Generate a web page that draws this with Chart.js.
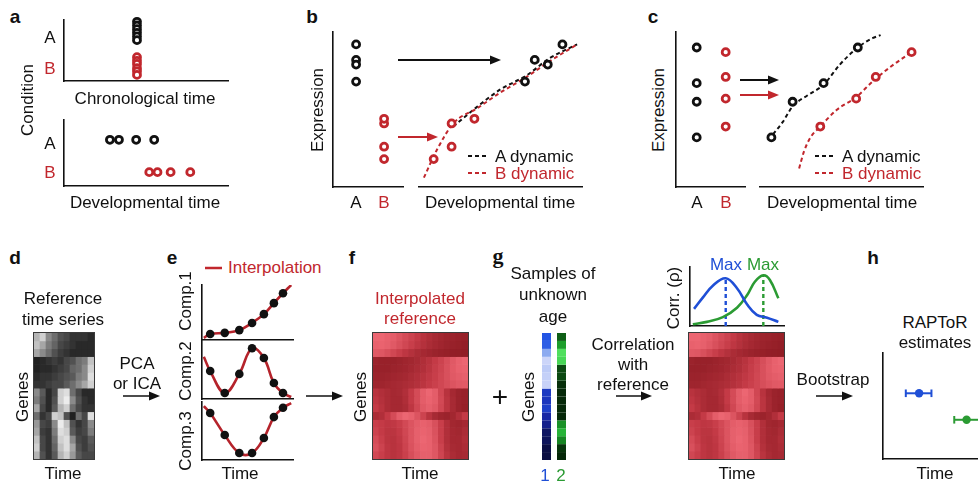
<!DOCTYPE html>
<html>
<head>
<meta charset="utf-8">
<script src="https://cdn.jsdelivr.net/npm/chart.js@4.4.0/dist/chart.umd.min.js"></script>
<style>
html, body { margin: 0; padding: 0; background: #fff; }
#fig { position: relative; width: 978px; height: 481px; overflow: hidden;
       font-family: "Liberation Sans", Arial, sans-serif; color: #111; }
#fig canvas { position: absolute; }
.lbl { position: absolute; white-space: nowrap; font-size: 17px; line-height: 1; }
.panel { font-weight: bold; font-size: 19px; }
.heat { outline: 1px solid #3a3a3a; }
#fig svg { position: absolute; left: 0; top: 0; }
</style>
</head>
<body>
<div id="fig"></div>
<script>
const RED = '#c1272d', BLUE = '#1f4fd6', GREEN = '#2b9b33', INK = '#111';

// ---- a: samples of conditions A/B on chronological vs developmental time
const aChronoTime = 4.45;
const aChronoA = [9.7, 9.1, 8.5, 7.9, 7.3, 6.7];
const aChronoB = [3.9, 3.3, 2.8, 2.1, 1.6, 1.0];
const aDevA = [2.8, 3.35, 4.4, 5.5];
const aDevB = [5.2, 5.7, 6.5, 7.7];
const aRowA = 7.0, aRowB = 2.1;

// ---- b: expression of samples, and their developmental dynamics
const bTimeA = [6.5, 7.1, 7.9, 8.8], bExprA = [6.8, 8.2, 7.9, 9.2];
const bTimeB = [0.9, 2.0, 2.0, 3.4], bExprB = [1.8, 4.1, 2.6, 4.4];
const bDynAt = [2.1, 3.6, 5.0, 6.6, 8.0, 9.7];
const bDynA = [3.9, 5.2, 6.3, 7.2, 8.3, 9.2];
const bDynBt = [0.3, 1.1, 2.1, 3.6, 5.0, 6.6, 8.0, 9.7];
const bDynB = [0.6, 2.4, 4.1, 5.1, 6.1, 7.1, 8.1, 9.2];

// ---- c
const cTimeA = [0.7, 2.0, 3.9, 6.0], cExprA = [3.2, 5.5, 6.7, 9.0];
const cTimeB = [3.7, 5.9, 7.1, 9.3], cExprB = [3.9, 5.7, 7.1, 8.7];
const cDynAt = [0.8, 1.4, 2.0, 2.9, 3.9, 4.9, 6.0, 6.9, 7.4];
const cDynA = [3.4, 4.2, 5.2, 5.9, 6.6, 7.9, 9.0, 9.6, 9.8];
const cDynBt = [2.4, 2.7, 3.1, 3.7, 4.7, 5.9, 7.0, 8.2, 9.3];
const cDynB = [1.2, 2.3, 3.2, 3.9, 4.97, 5.8, 6.9, 7.9, 8.7];

// x of the A / B columns in the left boxes of b and c
const condX = { b: [3.3, 7.3], c: [3.0, 7.2] };

// ---- d: reference time series (genes x time), 0 = black, 1 = white
const refSeries = [
  [0.75, 0.85, 0.6, 0.5, 0.35, 0.3, 0.2, 0.2, 0.2, 0.15],
  [0.8, 0.7, 0.55, 0.45, 0.3, 0.25, 0.2, 0.15, 0.15, 0.15],
  [0.7, 0.6, 0.5, 0.35, 0.25, 0.2, 0.15, 0.15, 0.15, 0.15],
  [0.1, 0.15, 0.2, 0.25, 0.2, 0.3, 0.35, 0.5, 0.55, 0.8],
  [0.1, 0.15, 0.15, 0.2, 0.25, 0.3, 0.45, 0.5, 0.6, 0.85],
  [0.15, 0.2, 0.2, 0.25, 0.3, 0.35, 0.4, 0.55, 0.6, 0.9],
  [0.2, 0.2, 0.25, 0.3, 0.3, 0.4, 0.5, 0.6, 0.7, 0.85],
  [0.6, 0.4, 0.15, 0.3, 0.85, 0.9, 0.5, 0.3, 0.15, 0.15],
  [0.55, 0.35, 0.15, 0.35, 0.85, 0.95, 0.6, 0.35, 0.2, 0.15],
  [0.7, 0.3, 0.15, 0.4, 0.75, 0.85, 0.5, 0.3, 0.2, 0.2],
  [0.5, 0.2, 0.3, 0.85, 0.8, 0.35, 0.1, 0.5, 0.3, 0.9],
  [0.65, 0.3, 0.25, 0.6, 0.95, 0.8, 0.35, 0.2, 0.3, 0.6],
  [0.7, 0.25, 0.2, 0.55, 0.9, 0.85, 0.4, 0.25, 0.3, 0.55],
  [0.8, 0.3, 0.2, 0.5, 0.85, 0.9, 0.6, 0.3, 0.25, 0.4],
  [0.85, 0.3, 0.2, 0.45, 0.8, 0.9, 0.7, 0.35, 0.25, 0.35],
  [0.75, 0.35, 0.2, 0.4, 0.75, 0.85, 0.65, 0.4, 0.3, 0.3]
];

// ---- e: components over time, with interpolation
const eTime = [0.9, 2.5, 4.1, 5.5, 6.8, 7.9, 8.9];
const comp1 = [1.1, 1.3, 1.8, 3.1, 4.7, 6.7, 8.5];
const comp2 = [4.9, 1.05, 4.4, 8.9, 7.2, 2.8, 1.05];
const comp3 = [8.1, 4.3, 1.2, 1.2, 3.8, 7.4, 9.0];
const eSpan = [0.2, 9.8];                        // time where the fitted curve starts / ends
const comp1Ends = [0.4, 10], comp2Ends = [7.4, 0.35], comp3Ends = [9.3, 9.8];

// ---- f: interpolated reference (genes x time), 0 = dark, 1 = light
const interpRef = [
  [0.95, 0.95, 0.9, 0.85, 0.75, 0.65, 0.55, 0.45, 0.35, 0.28, 0.22, 0.18, 0.14, 0.12, 0.1, 0.08],
  [0.9, 0.92, 0.88, 0.8, 0.7, 0.6, 0.5, 0.4, 0.32, 0.25, 0.2, 0.16, 0.12, 0.1, 0.08, 0.06],
  [0.8, 0.78, 0.7, 0.6, 0.5, 0.4, 0.32, 0.25, 0.2, 0.16, 0.12, 0.1, 0.08, 0.06, 0.05, 0.04],
  [0.12, 0.1, 0.1, 0.1, 0.12, 0.15, 0.18, 0.22, 0.28, 0.35, 0.45, 0.55, 0.68, 0.8, 0.9, 0.95],
  [0.1, 0.1, 0.1, 0.12, 0.14, 0.16, 0.2, 0.25, 0.3, 0.38, 0.48, 0.58, 0.7, 0.82, 0.9, 0.92],
  [0.12, 0.12, 0.14, 0.16, 0.18, 0.2, 0.25, 0.3, 0.35, 0.42, 0.5, 0.6, 0.7, 0.8, 0.85, 0.88],
  [0.15, 0.15, 0.18, 0.2, 0.22, 0.25, 0.28, 0.32, 0.38, 0.45, 0.52, 0.6, 0.68, 0.75, 0.8, 0.82],
  [0.35, 0.3, 0.25, 0.2, 0.22, 0.3, 0.45, 0.65, 0.85, 0.95, 0.85, 0.6, 0.35, 0.2, 0.12, 0.1],
  [0.4, 0.32, 0.25, 0.2, 0.2, 0.28, 0.45, 0.65, 0.85, 0.92, 0.85, 0.62, 0.38, 0.22, 0.12, 0.1],
  [0.45, 0.35, 0.25, 0.2, 0.2, 0.25, 0.4, 0.6, 0.8, 0.88, 0.8, 0.6, 0.38, 0.22, 0.12, 0.08],
  [0.25, 0.3, 0.45, 0.65, 0.85, 0.95, 0.9, 0.75, 0.55, 0.35, 0.22, 0.15, 0.12, 0.18, 0.3, 0.45],
  [0.5, 0.45, 0.4, 0.42, 0.5, 0.62, 0.75, 0.85, 0.9, 0.85, 0.7, 0.5, 0.3, 0.18, 0.15, 0.2],
  [0.55, 0.45, 0.38, 0.38, 0.45, 0.6, 0.75, 0.88, 0.92, 0.88, 0.72, 0.5, 0.3, 0.2, 0.18, 0.25],
  [0.65, 0.5, 0.38, 0.35, 0.42, 0.58, 0.75, 0.88, 0.95, 0.9, 0.75, 0.5, 0.3, 0.2, 0.2, 0.28],
  [0.7, 0.55, 0.4, 0.35, 0.4, 0.55, 0.72, 0.85, 0.92, 0.9, 0.78, 0.55, 0.32, 0.22, 0.2, 0.25],
  [0.6, 0.5, 0.4, 0.35, 0.4, 0.52, 0.68, 0.8, 0.88, 0.88, 0.78, 0.58, 0.36, 0.25, 0.2, 0.22]
];

// ---- g: two samples of unknown age (gene expression), correlation with reference
const sample1 = [0.6, 0.62, 0.8, 0.97, 0.93, 0.95, 0.96, 0.45, 0.43, 0.48, 0.33, 0.25, 0.12, 0.1, 0.03, 0.02];
const sample2 = [0.3, 0.55, 0.9, 0.85, 0.2, 0.2, 0.08, 0.05, 0.05, 0.05, 0.05, 0.5, 0.65, 0.45, 0.1, 0.04];
const corrT1 = [0.43, 1.4, 2.4, 3.8, 5.0, 6.1, 7.1, 8.2, 9.4];
const corr1 = [2.9, 4.9, 6.8, 8.1, 6.4, 3.6, 1.9, 1.4, 0.7];
const corrT2 = [0.3, 1.8, 3.5, 5.0, 6.1, 6.9, 7.8, 8.5, 9.4];
const corr2 = [0.3, 0.7, 1.5, 3.1, 5.3, 7.5, 8.6, 7.8, 4.7];
const maxT = [3.8, 7.8], maxCorr = [8.1, 8.6];

// ---- h: bootstrap age estimates
const estT = [3.8, 8.8], estLo = [2.4, 7.5], estHi = [5.1, 10.3], estRow = [6.2, 3.7];

const fig = document.getElementById('fig');

function pts(xs, ys) { return xs.map((x, i) => ({ x, y: ys[i] })); }

function ramp(stops) {
  return v => {
    let i = 1;
    while (i < stops.length - 1 && v > stops[i][0]) i++;
    const [v0, c0] = stops[i - 1], [v1, c1] = stops[i];
    const t = Math.max(0, Math.min(1, (v - v0) / (v1 - v0)));
    const c = c0.map((k, j) => Math.round(k + (c1[j] - k) * t));
    return `rgb(${c[0]},${c[1]},${c[2]})`;
  };
}
const grayMap = ramp([[0, [12, 12, 12]], [0.5, [110, 110, 110]], [1, [250, 250, 250]]]);
const redMap = ramp([[0, [140, 26, 34]], [0.45, [196, 58, 70]], [1, [240, 106, 118]]]);
const blueMap = ramp([[0, [10, 12, 60]], [0.35, [25, 40, 170]], [0.6, [35, 85, 228]], [0.8, [140, 170, 240]], [1, [215, 220, 250]]]);
const greenMap = ramp([[0, [4, 30, 6]], [0.3, [14, 95, 22]], [0.6, [32, 170, 48]], [1, [96, 240, 108]]]);

function chartAt(x, y, w, h, pad, config, cls) {
  const c = document.createElement('canvas');
  c.width = w + 2 * pad; c.height = h + 2 * pad;
  c.style.left = (x - pad) + 'px'; c.style.top = (y - pad) + 'px';
  if (cls) c.className = cls;
  fig.appendChild(c);
  config.options = Object.assign({
    responsive: false, animation: false, events: [],
    layout: { padding: pad },
    plugins: { legend: { display: false }, tooltip: { enabled: false } }
  }, config.options);
  return new Chart(c, config);
}

function lin(min, max, border) {
  return {
    type: 'linear', min, max,
    grid: { display: false, drawTicks: false },
    ticks: { display: false },
    border: { display: border, color: INK, width: 1.6 }
  };
}

function ring(data, color) {
  return { data, pointRadius: 3.5, pointBorderWidth: 2.8, pointBorderColor: color,
           pointBackgroundColor: '#fff', borderColor: color, clip: false };
}

function dyn(xs, ys, color) {
  return { data: pts(xs, ys), showLine: true, borderColor: color, borderWidth: 2,
           borderDash: [4, 3], pointRadius: 0, cubicInterpolationMode: 'monotone', clip: false };
}

function scatterBox(x, y, w, h, datasets, xBorder, yBorder) {
  return chartAt(x, y, w, h, 8, {
    type: 'scatter',
    data: { datasets },
    options: { scales: { x: lin(0, 10, xBorder), y: lin(0, 10, yBorder) } }
  });
}

function heatmap(x, y, w, h, matrix, colorFn, barPct) {
  const labels = matrix[0].map((_, j) => j);
  const datasets = matrix.map((row, i) => ({
    data: row.map(() => [i, i + 1]),
    backgroundColor: row.map((v, j) => colorFn(v, j)),
    grouped: false, barPercentage: barPct || 1, categoryPercentage: 1, borderWidth: 0
  }));
  return chartAt(x, y, w, h, 0, {
    type: 'bar',
    data: { labels, datasets },
    options: { scales: { x: { display: false }, y: { display: false, min: 0, max: matrix.length, reverse: true } } }
  }, barPct ? '' : 'heat');
}

// ---- a
scatterBox(64, 20, 164, 61, [
  ring(aChronoA.map(y => ({ x: aChronoTime, y })), INK),
  ring(aChronoB.map(y => ({ x: aChronoTime, y })), RED)
], true, true);
scatterBox(64, 120, 164, 66, [
  ring(aDevA.map(x => ({ x, y: aRowA })), INK),
  ring(aDevB.map(x => ({ x, y: aRowB })), RED)
], true, true);

// ---- b
scatterBox(333, 32, 70, 155, [
  ring(bExprA.map(y => ({ x: condX.b[0], y })), INK),
  ring(bExprB.map(y => ({ x: condX.b[1], y })), RED)
], true, true);
scatterBox(419, 32, 163, 155, [
  ring(pts(bTimeA, bExprA), INK),
  ring(pts(bTimeB, bExprB), RED),
  dyn(bDynBt, bDynB, RED),
  dyn(bDynAt, bDynA, INK)
], true, false);

// ---- c
scatterBox(676, 32, 69, 155, [
  ring(cExprA.map(y => ({ x: condX.c[0], y })), INK),
  ring(cExprB.map(y => ({ x: condX.c[1], y })), RED)
], true, true);
scatterBox(760, 32, 163, 155, [
  ring(pts(cTimeA, cExprA), INK),
  ring(pts(cTimeB, cExprB), RED),
  dyn(cDynAt, cDynA, INK),
  dyn(cDynBt, cDynB, RED)
], true, false);

// ---- d
heatmap(34, 333, 60, 126, refSeries, grayMap);

// ---- e
function compChart(y, h, vals, ends) {
  const curve = [{ x: eSpan[0], y: ends[0] }].concat(pts(eTime, vals), [{ x: eSpan[1], y: ends[1] }]);
  scatterBox(202, y, 91, h, [
    { data: pts(eTime, vals), pointRadius: 4.3, pointBackgroundColor: INK, pointBorderWidth: 0, clip: false },
    { data: curve, showLine: true, borderColor: '#b5232b', borderWidth: 2.6, pointRadius: 0, tension: 0.4 }
  ], true, true);
}
compChart(285, 55, comp1, comp1Ends);
compChart(342, 57, comp2, comp2Ends);
compChart(402, 58, comp3, comp3Ends);

// ---- f
heatmap(373, 333, 95, 126, interpRef, redMap);

// ---- g
heatmap(539, 333, 30, 127, sample1.map((v, i) => [v, sample2[i]]),
        (v, j) => (j === 0 ? blueMap(v) : greenMap(v)), 0.6);
scatterBox(690, 267, 94, 59, [
  { data: pts(corrT1, corr1), showLine: true, borderColor: BLUE, borderWidth: 2.6, pointRadius: 0, tension: 0.4 },
  { data: pts(corrT2, corr2), showLine: true, borderColor: GREEN, borderWidth: 2.6, pointRadius: 0, tension: 0.4 },
  { data: [{ x: maxT[0], y: 0 }, { x: maxT[0], y: maxCorr[0] }], showLine: true, borderColor: BLUE, borderWidth: 2.4, borderDash: [4, 3], pointRadius: 0 },
  { data: [{ x: maxT[1], y: 0 }, { x: maxT[1], y: maxCorr[1] }], showLine: true, borderColor: GREEN, borderWidth: 2.4, borderDash: [4, 3], pointRadius: 0 }
], true, true);
heatmap(689, 333, 95, 126, interpRef, redMap);

// ---- h
const hSets = [];
[BLUE, GREEN].forEach((col, i) => {
  hSets.push({ data: [{ x: estT[i], y: estRow[i] }], pointRadius: 4.2, pointBackgroundColor: col, pointBorderWidth: 0, clip: false });
  hSets.push({ data: [{ x: estLo[i], y: estRow[i] }, { x: estHi[i], y: estRow[i] }], showLine: true,
               borderColor: col, borderWidth: 2, pointStyle: 'line', rotation: 90, pointRadius: 3.8,
               pointBorderWidth: 2, pointBorderColor: col, clip: false });
});
scatterBox(883, 353, 95, 106, hSets, true, true);

// ---- text
function label(text, x, y, o) {
  o = o || {};
  const el = document.createElement('div');
  el.className = 'lbl' + (o.cls ? ' ' + o.cls : '');
  el.textContent = text;
  el.style.left = x + 'px'; el.style.top = y + 'px';
  if (o.color) el.style.color = o.color;
  if (o.size) el.style.fontSize = o.size + 'px';
  if (o.font) el.style.fontFamily = o.font;
  let tf = o.left ? 'translate(0,-50%)' : 'translate(-50%,-50%)';
  if (o.rot) tf += ' rotate(-90deg)';
  el.style.transform = tf;
  fig.appendChild(el);
}
const P = { cls: 'panel' };
label('a', 15, 16, P); label('b', 312, 16, P); label('c', 653, 16, P);
label('d', 15, 257, P); label('e', 172, 257, P); label('f', 352, 257, P);
label('g', 498, 256, { cls: 'panel', font: '"Liberation Serif", serif', size: 22 });
label('h', 873, 257, P);

label('A', 50, 37); label('B', 50, 68, { color: RED });
label('Chronological time', 145, 98);
label('Condition', 27, 100, { rot: true });
label('A', 50, 143); label('B', 50, 172, { color: RED });
label('Developmental time', 145, 202);

label('Expression', 317, 110, { rot: true });
label('A', 356, 202); label('B', 384, 202, { color: RED });
label('Developmental time', 500, 202);
label('A dynamic', 495, 156, { left: true });
label('B dynamic', 495, 173, { left: true, color: RED });

label('Expression', 658, 110, { rot: true });
label('A', 697, 202); label('B', 726, 202, { color: RED });
label('Developmental time', 842, 202);
label('A dynamic', 842, 156, { left: true });
label('B dynamic', 842, 173, { left: true, color: RED });

label('Reference', 63, 298); label('time series', 63, 319);
label('Genes', 22, 397, { rot: true }); label('Time', 63, 473);
label('PCA', 137, 363); label('or ICA', 137, 383);

label('Interpolation', 228, 267, { left: true, color: RED });
label('Comp.1', 185, 301, { rot: true });
label('Comp.2', 185, 371, { rot: true });
label('Comp.3', 185, 441, { rot: true });
label('Time', 240, 473);

label('Interpolated', 420, 298, { color: RED }); label('reference', 420, 318, { color: RED });
label('Genes', 360, 397, { rot: true }); label('Time', 420, 473);

label('Samples of', 553, 273); label('unknown', 553, 294); label('age', 553, 316);
label('+', 500, 397, { size: 28 });
label('Genes', 528, 397, { rot: true });
label('1', 545, 475, { color: BLUE }); label('2', 561, 475, { color: GREEN });
label('Correlation', 633, 344); label('with', 633, 364); label('reference', 633, 384);
label('Corr. (\u03c1)', 673, 298, { rot: true });
label('Max', 726, 264, { color: BLUE }); label('Max', 763, 264, { color: GREEN });
label('Time', 737, 473);

label('RAPToR', 935, 322); label('estimates', 935, 342);
label('Bootstrap', 833, 379);
label('Time', 935, 473);

// ---- arrows and legend keys
const NS = 'http://www.w3.org/2000/svg';
const svg = document.createElementNS(NS, 'svg');
svg.setAttribute('width', 978); svg.setAttribute('height', 481);
function el(tag, attrs) {
  const e = document.createElementNS(NS, tag);
  for (const k in attrs) e.setAttribute(k, attrs[k]);
  svg.appendChild(e);
}
function arrow(x1, x2, y, color, w) {
  el('line', { x1, y1: y, x2: x2 - 8, y2: y, stroke: color, 'stroke-width': w });
  el('polygon', { points: `${x2},${y} ${x2 - 11},${y - 4.5} ${x2 - 11},${y + 4.5}`, fill: color });
}
arrow(398, 501, 60, INK, 2); arrow(398, 438, 137, RED, 2);
arrow(740, 779, 80, INK, 2); arrow(740, 779, 95, RED, 2);
arrow(123, 160, 396, INK, 1.5); arrow(306, 343, 396, INK, 1.5);
arrow(616, 652, 396, INK, 1.5); arrow(816, 853, 396, INK, 1.5);
[[468, 156, INK], [468, 173, RED], [815, 156, INK], [815, 173, RED]].forEach(([x, y, c]) =>
  el('line', { x1: x, y1: y, x2: x + 20, y2: y, stroke: c, 'stroke-width': 2, 'stroke-dasharray': '4 3' }));
el('line', { x1: 205, y1: 268, x2: 222, y2: 268, stroke: RED, 'stroke-width': 2.5 });
fig.appendChild(svg);
</script>
</body>
</html>
